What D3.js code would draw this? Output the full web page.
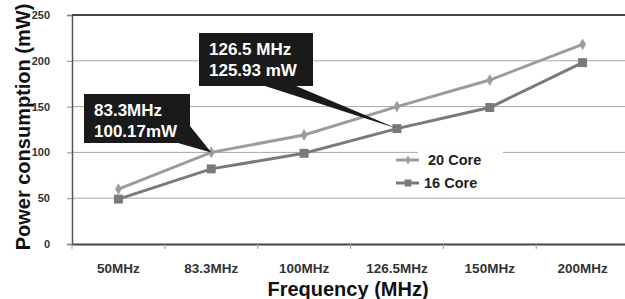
<!DOCTYPE html>
<html lang="en">
<head>
    <meta charset="UTF-8">
    <title>Power consumption vs frequency</title>
    <style>
        body { margin: 0; background: #fff; }
        svg { display: block; font-family: "Liberation Sans", Arial, sans-serif; }
        .tick text { font-weight: bold; fill: #333; }
        .note text { font-weight: bold; fill: #fff; font-size: 17px; }
    </style>
    <script src="https://d3js.org/d3.v7.min.js"></script>
</head>
<body>
    <div id="chart"></div>
    <script>
        const categories = ["50MHz", "83.3MHz", "100MHz", "126.5MHz", "150MHz", "200MHz"];
        const core20 = [60, 100, 119, 150, 179, 218];
        const core16 = [49, 82, 99, 126, 149, 198];
        const yTicks = [0, 50, 100, 150, 200, 250];

        const width = 625;
        const height = 299;
        const margin = { top: 15, right: -4, bottom: 55, left: 72 };

        const svg = d3.select("#chart").append("svg")
            .attr("width", width)
            .attr("height", height);

        const x = d3.scaleBand()
            .domain(categories)
            .range([margin.left, width - margin.right]);

        const y = d3.scaleLinear()
            .domain([0, 250])
            .range([height - margin.bottom, margin.top]);

        // gridlines
        svg.append("g")
            .selectAll("line")
            .data(yTicks.slice(1, -1))
            .join("line")
            .attr("x1", margin.left)
            .attr("x2", width)
            .attr("y1", d => y(d))
            .attr("y2", d => y(d))
            .attr("stroke", "#a8a8a8")
            .attr("stroke-width", 1);

        // legend box hides the gridline behind it
        svg.append("rect")
            .attr("x", 418).attr("y", y(100) - 1)
            .attr("width", 85).attr("height", 2)
            .attr("fill", "#fff");

        // top border
        svg.append("line")
            .attr("x1", margin.left).attr("x2", width)
            .attr("y1", y(250)).attr("y2", y(250))
            .attr("stroke", "#444").attr("stroke-width", 2);

        // y axis
        const yAxis = svg.append("g")
            .attr("transform", `translate(${margin.left},0)`)
            .call(d3.axisLeft(y).tickValues(yTicks).tickSize(5).tickPadding(17));
        yAxis.select(".domain").attr("stroke", "#555").attr("stroke-width", 1.5);
        yAxis.selectAll(".tick line").attr("stroke", "#888");
        yAxis.selectAll(".tick text").attr("font-size", 11);

        // x axis
        const xAxis = svg.append("g")
            .attr("transform", `translate(0,${y(0)})`)
            .call(d3.axisBottom(x).tickSize(0).tickPadding(19));
        xAxis.select(".domain").attr("stroke", "#444").attr("stroke-width", 2);
        xAxis.selectAll(".tick text").attr("font-size", 13.5).attr("fill", "#3a3a3a");
        // category dividers
        xAxis.append("g")
            .selectAll("line")
            .data(categories)
            .join("line")
            .attr("x1", d => x(d))
            .attr("x2", d => x(d))
            .attr("y1", 0)
            .attr("y2", 5)
            .attr("stroke", "#999");

        const cx = d => x(d) + x.bandwidth() / 2;
        const line = d3.line()
            .x((d, i) => cx(categories[i]))
            .y(d => y(d));

        const series = [
            { name: "20 Core", values: core20, color: "#9c9c9c", symbol: d3.symbolDiamond, size: 40 },
            { name: "16 Core", values: core16, color: "#7a7a7a", symbol: d3.symbolSquare, size: 80 }
        ];

        series.forEach(s => {
            svg.append("path")
                .datum(s.values)
                .attr("d", line)
                .attr("fill", "none")
                .attr("stroke", s.color)
                .attr("stroke-width", 3);
            svg.append("g")
                .selectAll("path")
                .data(s.values)
                .join("path")
                .attr("transform", (d, i) => `translate(${cx(categories[i])},${y(d)})`)
                .attr("d", d3.symbol(s.symbol, s.size))
                .attr("fill", s.color);
        });

        // legend
        const legend = svg.append("g").attr("transform", "translate(396,0)");
        series.forEach((s, i) => {
            const ly = 160 + i * 23;
            legend.append("line")
                .attr("x1", 0).attr("x2", 23)
                .attr("y1", ly).attr("y2", ly)
                .attr("stroke", s.color).attr("stroke-width", 3);
            legend.append("path")
                .attr("transform", `translate(12,${ly})`)
                .attr("d", d3.symbol(s.symbol, s.size * 0.6))
                .attr("fill", s.color);
            legend.append("text")
                .attr("x", i === 0 ? 32 : 28)
                .attr("y", ly + 5)
                .attr("font-size", 14.5)
                .attr("font-weight", "bold")
                .attr("fill", "#222")
                .text(s.name);
        });

        // callouts
        const notes = [
            { box: [84, 94, 106, 49], lines: ["83.3MHz", "100.17mW"],
              ptr: [[178, 143], [190, 126], [cx(categories[1]), y(core20[1])]] },
            { box: [199, 33, 114, 53], lines: ["126.5 MHz", "125.93 mW"],
              ptr: [[265, 86], [296, 86], [cx(categories[3]), y(core16[3])]] }
        ];
        notes.forEach(n => {
            const g = svg.append("g").attr("class", "note");
            g.append("path")
                .attr("d", d3.line()(n.ptr) + "Z")
                .attr("fill", "#1a1a1a");
            g.append("rect")
                .attr("x", n.box[0]).attr("y", n.box[1])
                .attr("width", n.box[2]).attr("height", n.box[3])
                .attr("fill", "#1a1a1a");
            n.lines.forEach((t, i) => {
                g.append("text")
                    .attr("x", n.box[0] + 10)
                    .attr("y", n.box[1] + 22 + i * 21)
                    .text(t);
            });
        });

        // axis titles
        svg.append("text")
            .attr("transform", `translate(30,${(y(0) + 10) / 2}) rotate(-90)`)
            .attr("text-anchor", "middle")
            .attr("font-size", 20)
            .attr("font-weight", "bold")
            .attr("fill", "#111")
            .text("Power consumption (mW)");

        svg.append("text")
            .attr("x", 348)
            .attr("y", 296)
            .attr("text-anchor", "middle")
            .attr("font-size", 20)
            .attr("font-weight", "bold")
            .attr("fill", "#111")
            .text("Frequency (MHz)");
    </script>
</body>
</html>
